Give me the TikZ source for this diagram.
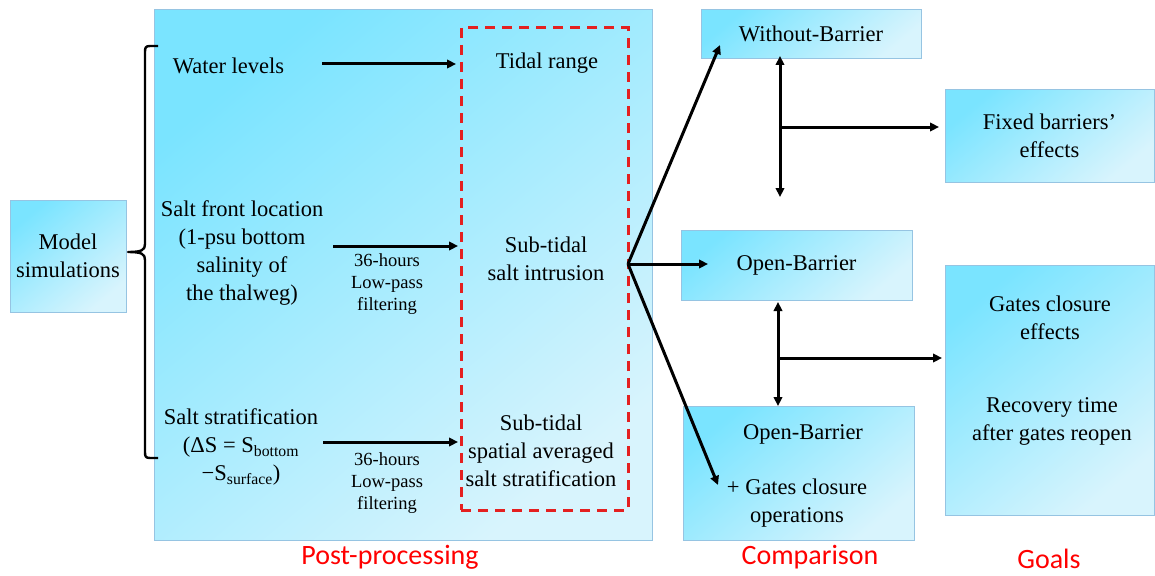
\documentclass[tikz,border=0pt]{standalone}
\usepackage{fontspec}
\setmainfont{Liberation Serif}
\newfontfamily\tnr{Liberation Serif}
\newfontfamily\labfont{Carlito}
\usetikzlibrary{arrows.meta}
\definecolor{cyanA}{RGB}{122,228,255}
\definecolor{cyanB}{RGB}{216,244,253}
\definecolor{boxline}{RGB}{150,196,226}
\definecolor{dashred}{RGB}{228,32,32}
\definecolor{labred}{RGB}{255,0,0}
\begin{document}
\begin{tikzpicture}[x=1pt,y=-1pt,
  gbox/.style={draw=boxline, line width=1pt, top color=cyanA, bottom color=cyanB, shading angle=40, inner sep=0pt, align=center},
  maintxt/.style={align=center, inner sep=0pt, font=\tnr\fontsize{22.5}{28}\selectfont},
  smalltxt/.style={align=center, inner sep=0pt, font=\tnr\fontsize{18.5}{22}\selectfont},
  labtxt/.style={inner sep=0pt, text=labred, font=\labfont\fontsize{28}{32}\selectfont},
  conn/.style={line width=3pt, -{Triangle[length=9pt,width=8.5pt]}},
  dconn/.style={line width=3pt, {Triangle[length=9pt,width=8.5pt]}-{Triangle[length=9pt,width=8.5pt]}}]
\useasboundingbox (0,0) rectangle (1155,575);
% boxes
\node[gbox, minimum width=116pt, minimum height=112pt, maintxt] (msim) at (68,256) {Model\\simulations};
\node[gbox, minimum width=498pt, minimum height=530pt] (post) at (403,275) {};
\node[draw=dashred, line width=3pt, dash pattern=on 10pt off 7pt, minimum width=167pt, minimum height=482pt, inner sep=0pt] (red) at (544.5,269) {};
\node[gbox, minimum width=220pt, minimum height=49pt, maintxt] (wob) at (811,34.5) {\raisebox{2pt}{Without-Barrier}};
\node[gbox, minimum width=231pt, minimum height=70pt, maintxt] (ob) at (796.5,265) {\raisebox{3pt}{Open-Barrier}};
\node[gbox, minimum width=231pt, minimum height=134pt] (obg) at (798.5,473) {};
\node[gbox, minimum width=209pt, minimum height=92pt, maintxt] (fixed) at (1049.5,136) {Fixed barriers’\\effects};
\node[gbox, minimum width=209pt, minimum height=250pt] (goal) at (1049.5,390) {};
% texts
\node[maintxt] (wl) at (228.5,66) {Water levels};
\node[maintxt] (tr) at (547,63) {Tidal range};
\node[maintxt] (sfl) at (242,253) {Salt front location\\(1-psu bottom\\salinity of\\the thalweg)};
\node[smalltxt] (lp1) at (387,284) {36-hours\\Low-pass\\filtering};
\node[maintxt] (sti) at (546,259) {Sub-tidal\\salt intrusion};
\node[maintxt] (ss) at (241,447) {Salt stratification\\(ΔS = S\textsubscript{bottom}\\−S\textsubscript{surface})};
\node[smalltxt] (lp2) at (387,483) {36-hours\\Low-pass\\filtering};
\node[maintxt] (sts) at (541,451) {Sub-tidal\\spatial averaged\\salt stratification};
\node[maintxt] (obt) at (803,434) {Open-Barrier};
\node[maintxt] (obg2) at (797,503) {+ Gates closure\\operations};
\node[maintxt] (gce) at (1050,318) {Gates closure\\effects};
\node[maintxt] (rec) at (1052,421) {Recovery time\\after gates reopen};
\node[labtxt] (lpost) at (390,557) {Post-processing};
\node[labtxt] (lcomp) at (810,557) {Comparison};
\node[labtxt] (lgoal) at (1049,559) {Goals};
% brace
\coordinate (btip) at (128,252);
\draw[line width=2.4pt, line join=round] (158,46) -- (150,46) .. controls (145,46) and (145,48) .. (145,53) -- (145,244) .. controls (145,250) and (142,252) .. (btip) .. controls (142,252) and (145,254) .. (145,260) -- (145,451) .. controls (145,456) and (145,458) .. (150,458) -- (158,458);
% arrows left part
\coordinate (a1s) at (322,64);
\coordinate (a1e) at (456,64);
\draw[conn] (a1s) -- (a1e);
\coordinate (a2s) at (333,246);
\coordinate (a2e) at (458,246);
\draw[conn] (a2s) -- (a2e);
\coordinate (a3s) at (323,442);
\coordinate (a3e) at (458,442);
\draw[conn] (a3s) -- (a3e);
% fan
\coordinate (fan) at (628,264);
\coordinate (t1) at (720,45);
\coordinate (t2) at (708,264);
\coordinate (t3) at (718,485);
\draw[conn] (fan) -- (t1);
\draw[conn] (fan) -- (t2);
\draw[conn] (fan) -- (t3);
% comparisons
\coordinate (v1t) at (780,56);
\coordinate (v1b) at (780,197);
\coordinate (h1s) at (780,127);
\coordinate (h1e) at (939,127);
\draw[dconn] (v1t) -- (v1b);
\draw[conn] (h1s) -- (h1e);
\coordinate (v2t) at (778,302);
\coordinate (v2b) at (778,406);
\coordinate (h2s) at (778,358);
\coordinate (h2e) at (942,358);
\draw[dconn] (v2t) -- (v2b);
\draw[conn] (h2s) -- (h2e);
\end{tikzpicture}
\end{document}
